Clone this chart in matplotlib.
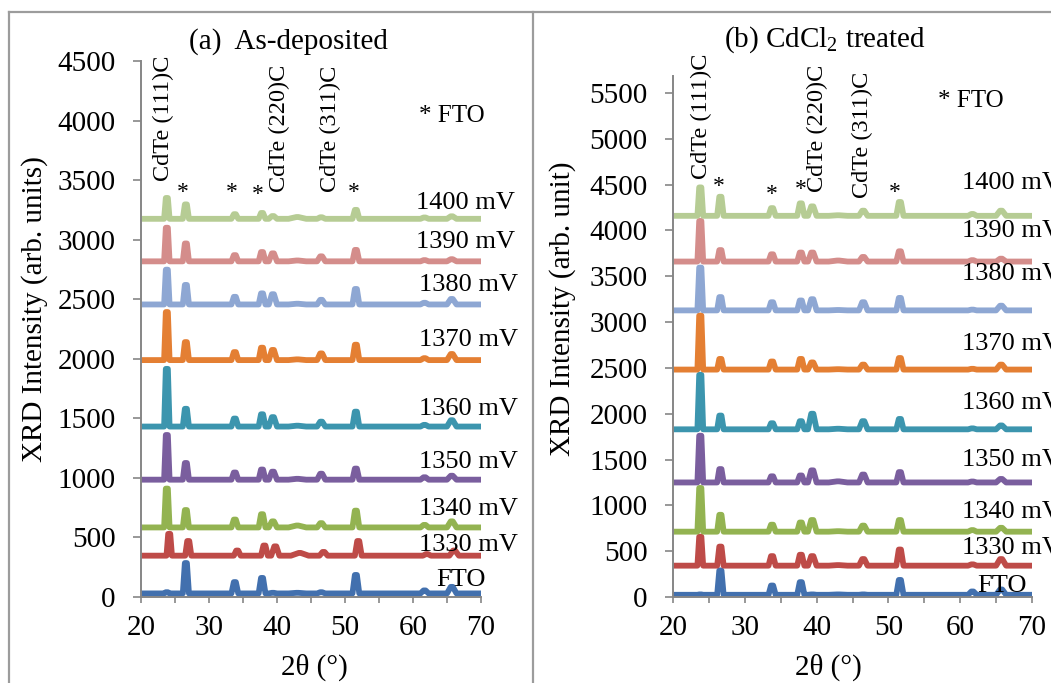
import matplotlib
matplotlib.use("Agg")
import matplotlib.pyplot as plt
from matplotlib.lines import Line2D

plt.rcParams['font.family'] = ['Liberation Serif', 'DejaVu Serif']
plt.rcParams['mathtext.fontset'] = 'custom'
plt.rcParams['mathtext.rm'] = 'Liberation Serif'
plt.rcParams['mathtext.it'] = 'Liberation Serif:italic'

# ---------------- data ----------------
series_names = ["FTO", "1330 mV", "1340 mV", "1350 mV", "1360 mV",
                "1370 mV", "1380 mV", "1390 mV", "1400 mV"]
series_colors = ["#4270AE", "#BE4B48", "#93B351", "#7A5E9E", "#3C95AE",
                 "#E47F33", "#8EA7D3", "#D48D8B", "#B6CC94"]

# 2theta positions of the reflections (deg) and their half widths at base
peak_pos = [23.8, 26.6, 33.8, 37.8, 39.4, 43.0, 46.5, 51.6, 61.7, 65.7]
peak_hw = [0.4, 0.45, 0.5, 0.5, 0.6, 1.3, 0.6, 0.5, 0.6, 0.7]

# (a) As-deposited : baseline and peak-top intensities per series
base_a = [30, 347, 584, 985, 1431, 1989, 2456, 2818, 3175]
shift_a = [0, 0.35, 0, 0, 0, 0, 0, 0, 0]
tops_a = [
    [40, 285, 125, 160, 35, 35, 40, 185, 55, 85],
    [530, 470, 390, 432, 425, 370, 378, 470, 360, 390],
    [910, 730, 650, 695, 635, 600, 620, 725, 605, 635],
    [1360, 1125, 1045, 1070, 1052, 992, 1035, 1078, 1005, 1018],
    [1915, 1580, 1498, 1534, 1510, 1438, 1472, 1556, 1445, 1484],
    [2392, 2140, 2056, 2093, 2074, 1995, 2045, 2118, 2005, 2040],
    [2748, 2620, 2520, 2549, 2542, 2462, 2495, 2586, 2470, 2502],
    [3100, 2968, 2870, 2896, 2885, 2825, 2860, 2914, 2828, 2836],
    [3350, 3296, 3214, 3224, 3198, 3190, 3188, 3250, 3186, 3196],
]

# (b) CdCl2 treated
base_b = [24, 342, 713, 1250, 1830, 2482, 3128, 3661, 4160]
shift_b = [0, 0, 0, 0, 0, 0, 0, 0, 0]
tops_b = [
    [28, 290, 125, 162, 28, 28, 28, 186, 60, 82],
    [658, 550, 446, 461, 446, 348, 414, 518, 356, 414],
    [1190, 897, 789, 813, 840, 718, 779, 840, 730, 755],
    [1760, 1396, 1317, 1326, 1382, 1262, 1336, 1363, 1260, 1288],
    [2425, 1980, 1896, 1919, 2000, 1836, 1919, 1943, 1840, 1872],
    [3072, 2598, 2570, 2598, 2560, 2486, 2536, 2608, 2490, 2536],
    [3595, 3273, 3217, 3236, 3250, 3132, 3217, 3264, 3136, 3179],
    [4104, 3786, 3740, 3759, 3759, 3672, 3711, 3773, 3676, 3692],
    [4470, 4368, 4244, 4296, 4263, 4166, 4216, 4311, 4180, 4216],
]

x_range = [20, 70]
y_ticks_a = [0, 500, 1000, 1500, 2000, 2500, 3000, 3500, 4000, 4500]
y_ticks_b = [0, 500, 1000, 1500, 2000, 2500, 3000, 3500, 4000, 4500, 5000, 5500]
x_ticks = [20, 30, 40, 50, 60, 70]
x_minor = [25, 35, 45, 55, 65]

W, H = 1051, 683
fig = plt.figure(figsize=(W / 100, H / 100), dpi=100)


def fx(px):
    return px / W


def fy(py):
    return 1 - py / H


def pattern(base, tops, shift):
    xs = [x_range[0]]
    ys = [base]
    for p, hw, t in zip(peak_pos, peak_hw, tops):
        c = p + shift
        xs += [c - hw, c - 0.15, c + 0.15, c + hw]
        ys += [base, t, t, base]
    xs.append(x_range[1])
    ys.append(base)
    return xs, ys


GRAY = "#868686"


def style_axes(ax, yticks, ymax):
    ax.set_xlim(*x_range)
    ax.set_ylim(0, ymax)
    ax.set_xticks(x_ticks)
    ax.set_xticks(x_minor, minor=True)
    ax.set_yticks(yticks)
    for s in ["top", "right"]:
        ax.spines[s].set_visible(False)
    for s in ["left", "bottom"]:
        ax.spines[s].set_color(GRAY)
        ax.spines[s].set_linewidth(1.4)
    ax.tick_params(axis='y', which='major', direction='out', length=5.8,
                   width=1.2, color=GRAY, labelsize=21, pad=12.5)
    ax.tick_params(axis='x', which='both', direction='out', length=4.3,
                   width=1.2, color=GRAY, labelsize=21, pad=8.5)
    ax.patch.set_alpha(0)


LW = 4.2

# ---------------- panel (a) ----------------
ax1 = fig.add_axes([fx(141), fy(597), fx(481) - fx(141), fy(61) - fy(597)])
for i in range(len(series_names)):
    xs, ys = pattern(base_a[i], tops_a[i], shift_a[i])
    ax1.plot(xs, ys, color=series_colors[i], lw=LW,
             solid_joinstyle='round', solid_capstyle='round')
style_axes(ax1, y_ticks_a, 4500)

# ---------------- panel (b) ----------------
ax2 = fig.add_axes([fx(673), fy(597), fx(1032) - fx(673), fy(76) - fy(597)])
for i in range(len(series_names)):
    xs, ys = pattern(base_b[i], tops_b[i], shift_b[i])
    ax2.plot(xs, ys, color=series_colors[i], lw=LW,
             solid_joinstyle='round', solid_capstyle='round')
style_axes(ax2, y_ticks_b, 5686)

# ---------------- texts ----------------
fig.text(fx(288), fy(42), "(a)  As-deposited", ha='center', va='center', fontsize=21)
fig.text(fx(825), fy(40), r"(b) CdCl$_{2}$ treated", ha='center', va='center', fontsize=21)

fig.text(fx(35), fy(309), "XRD Intensity (arb. units)", rotation=90,
         ha='center', va='center', fontsize=21)
fig.text(fx(563), fy(309), "XRD Intensity (arb. unit)", rotation=90,
         ha='center', va='center', fontsize=21)
fig.text(fx(314), fy(667), "2θ (°)", ha='center', va='center', fontsize=21)
fig.text(fx(828), fy(667), "2θ (°)", ha='center', va='center', fontsize=21)

# peak annotations (a)
for xc, yb, s in [(163, 181, "CdTe (111)C"), (279, 192, "CdTe (220)C"),
                  (330, 192, "CdTe (311)C")]:
    fig.text(fx(xc), fy(yb), s, rotation=90, ha='center', va='bottom', fontsize=17.5)
for xc, yc in [(183, 192), (232, 192), (258, 194), (354, 192)]:
    fig.text(fx(xc), fy(yc), "*", ha='center', va='center', fontsize=17)
fig.text(fx(452), fy(116), "* FTO", ha='center', va='center', fontsize=18)

# peak annotations (b)
for xc, yb, s in [(701, 179, "CdTe (111)C"), (817, 192, "CdTe (220)C"),
                  (862, 198, "CdTe (311)C")]:
    fig.text(fx(xc), fy(yb), s, rotation=90, ha='center', va='bottom', fontsize=17.5)
for xc, yc in [(719, 187), (772, 194), (801, 190), (895, 192)]:
    fig.text(fx(xc), fy(yc), "*", ha='center', va='center', fontsize=17)
fig.text(fx(971), fy(101), "* FTO", ha='center', va='center', fontsize=18)

# series labels (a): right aligned
lab_a_y = [580, 545, 509, 462, 409, 340, 285, 242, 203]
lab_a_x = [486, 518, 518, 518, 518, 518, 518, 515, 515]
for name, xr, yc in zip(series_names, lab_a_x, lab_a_y):
    fig.text(fx(xr), fy(yc), name, ha='right', va='center', fontsize=19)

# series labels (b): left aligned (cut at the figure edge as in the original)
lab_b_y = [586, 548, 512, 460, 403, 344, 274, 231, 183]
lab_b_x = [977, 962, 962, 962, 962, 962, 962, 962, 962]
for name, xl, yc in zip(series_names, lab_b_x, lab_b_y):
    fig.text(fx(xl), fy(yc), name, ha='left', va='center', fontsize=19)

# frame lines of the original layout
BORDER = "#9C9C9C"
fig.add_artist(Line2D([fx(9), 1], [fy(12), fy(12)], color=BORDER, lw=1.6,
                      transform=fig.transFigure))
fig.add_artist(Line2D([fx(9), fx(9)], [0, fy(12)], color=BORDER, lw=1.6,
                      transform=fig.transFigure))
fig.add_artist(Line2D([fx(533), fx(533)], [0, fy(12)], color=BORDER, lw=1.6,
                      transform=fig.transFigure))

fig.savefig("out.png", dpi=100)
